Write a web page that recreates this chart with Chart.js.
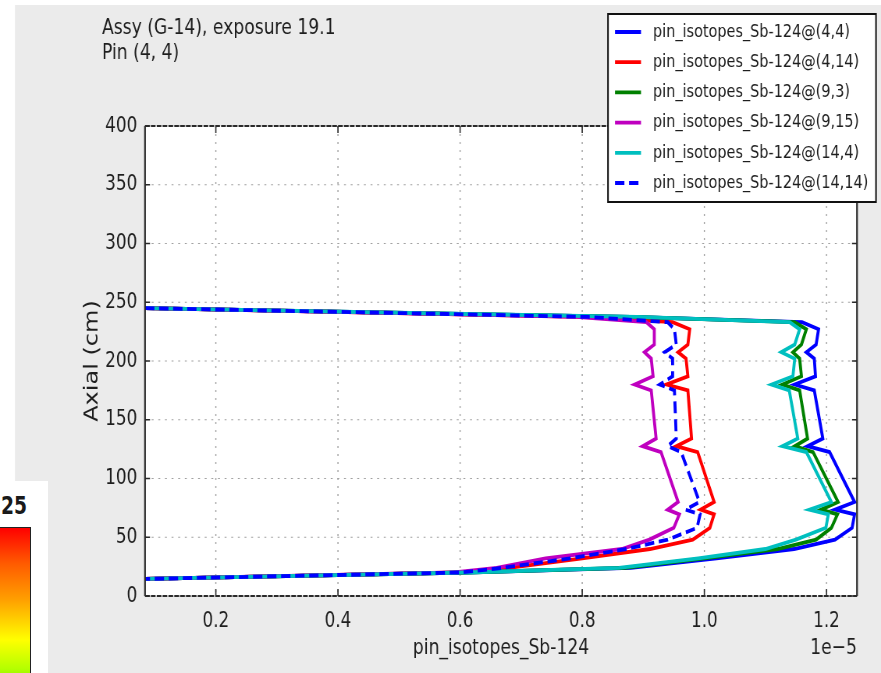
<!DOCTYPE html>
<html>
<head>
<meta charset="utf-8">
<script src="https://cdn.jsdelivr.net/npm/chart.js@4.4.1/dist/chart.umd.min.js"></script>
<style>
  html, body { margin: 0; padding: 0; background: #fff; overflow: hidden; width: 881px; height: 673px; }
  #stage { position: absolute; left: 0; top: 0; width: 1129px; height: 673px;
           transform: scaleX(0.78034); transform-origin: 0 0; }
  #side { position: absolute; left: 0; top: 481px; width: 48px; height: 192px; background: #fff; }
  #cbar { position: absolute; left: 0; top: 527px; width: 30px; height: 160px;
          border-top: 1.5px solid #222; border-right: 1.5px solid #222;
          background: linear-gradient(to bottom, #ff0000 0%, #ff5a00 22%, #ffa000 45%, #ffff00 70%, #b4ff00 88%, #6cf000 100%); }
  #cmax { position: absolute; left: 1px; top: 494px; font: bold 24px "DejaVu Sans", sans-serif; line-height: 24px;
          color: #1a1a1a; transform: scaleX(0.78); transform-origin: 0 0; white-space: nowrap; }
</style>
</head>
<body>
<div id="stage"><canvas id="c" width="1129" height="673"></canvas></div>
<div id="side"></div>
<div id="cbar"></div>
<div id="cmax">25</div>
<script>
// Axial node heights (cm), shared by every pin profile
const axialCm = [245, 240, 237.5, 233, 227, 214, 207.5, 202, 187, 180, 175, 134, 127.5, 122.5,
                 80, 73.5, 69.5, 58, 48, 40, 32, 24, 20, 14.5];

// Sb-124 pin inventory at each axial node, in units of 1e-5
const sb124Pin4_4   = [0.084, 0.60, 0.88, 1.160, 1.187, 1.183, 1.167, 1.180, 1.182, 1.148, 1.180, 1.194, 1.169, 1.205,
                       1.246, 1.214, 1.246, 1.242, 1.214, 1.147, 1.02, 0.88, 0.61, 0.084];
const sb124Pin4_14  = [0.084, 0.58, 0.80, 0.948, 0.976, 0.973, 0.957, 0.970, 0.973, 0.938, 0.973, 0.979, 0.954, 0.989,
                       1.016, 0.994, 1.016, 1.009, 0.981, 0.911, 0.80, 0.68, 0.60, 0.084];
const sb124Pin9_3   = [0.084, 0.60, 0.88, 1.148, 1.167, 1.159, 1.145, 1.156, 1.159, 1.128, 1.156, 1.169, 1.148, 1.178,
                       1.219, 1.191, 1.218, 1.208, 1.183, 1.120, 1.00, 0.87, 0.61, 0.084];
const sb124Pin9_15  = [0.084, 0.58, 0.79, 0.905, 0.918, 0.918, 0.902, 0.913, 0.916, 0.886, 0.913, 0.921, 0.899, 0.929,
                       0.957, 0.940, 0.959, 0.950, 0.910, 0.865, 0.74, 0.66, 0.59, 0.084];
const sb124Pin14_4  = [0.084, 0.61, 0.89, 1.140, 1.156, 1.148, 1.126, 1.148, 1.145, 1.110, 1.139, 1.153, 1.128, 1.167,
                       1.208, 1.172, 1.203, 1.199, 1.150, 1.100, 0.99, 0.86, 0.61, 0.084];
const sb124Pin14_14 = [0.084, 0.58, 0.81, 0.940, 0.951, 0.954, 0.935, 0.948, 0.948, 0.927, 0.951, 0.954, 0.940, 0.962,
                       0.992, 0.969, 0.993, 0.988, 0.940, 0.872, 0.78, 0.67, 0.60, 0.084];

const seriesLabels = [
  'pin_isotopes_Sb-124@(4,4)', 'pin_isotopes_Sb-124@(4,14)', 'pin_isotopes_Sb-124@(9,3)',
  'pin_isotopes_Sb-124@(9,15)', 'pin_isotopes_Sb-124@(14,4)', 'pin_isotopes_Sb-124@(14,14)'
];
const seriesValues = [sb124Pin4_4, sb124Pin4_14, sb124Pin9_3, sb124Pin9_15, sb124Pin14_4, sb124Pin14_14];

// Tick values and their labels
const xTickValues = [0.2, 0.4, 0.6, 0.8, 1.0, 1.2];
const xTickLabels = ['0.2', '0.4', '0.6', '0.8', '1.0', '1.2'];
const yTickValues = [0, 50, 100, 150, 200, 250, 300, 350, 400];
const yTickLabels = ['0', '50', '100', '150', '200', '250', '300', '350', '400'];

// Text
const titleLines = ['Assy (G-14), exposure 19.1', 'Pin (4, 4)'];
const xAxisTitle = 'pin_isotopes_Sb-124';
const xAxisExponent = '1e\u22125';
const yAxisTitle = 'Axial (cm)';

// Styling
const lineColors = ['#0000ff', '#ff0000', '#008000', '#bf00bf', '#00bfbf', '#0000ff'];
const lineDashes = [[], [], [], [], [], [12, 6]];
const FONT = '"DejaVu Sans", sans-serif';
const SX = 881 / 1129;            // horizontal squeeze of the drawing stage
const cx = v => v / SX;           // page x -> canvas x
const FIG_BG = '#ebebeb';
const LINE_W = 3.8;

const datasets = seriesValues.map((vals, i) => ({
  label: seriesLabels[i],
  data: vals.map((v, k) => ({ x: v, y: axialCm[k] })),
  showLine: true,
  borderColor: lineColors[i],
  backgroundColor: lineColors[i],
  borderWidth: LINE_W,
  borderDash: lineDashes[i],
  pointRadius: 0,
  tension: 0,
  fill: false,
  order: seriesValues.length - i   // later series paint on top
}));

const decor = {
  id: 'decor',
  beforeDraw(chart) {
    const { ctx, chartArea: a, width, height } = chart;
    ctx.save();
    ctx.fillStyle = '#fff';
    ctx.fillRect(0, 0, width, height);
    ctx.fillStyle = FIG_BG;
    ctx.fillRect(cx(15), 5, width, height);
    ctx.fillStyle = '#fff';
    ctx.fillRect(a.left, a.top, a.right - a.left, a.bottom - a.top);
    ctx.restore();
  },
  beforeDatasetsDraw(chart) {
    const { ctx, chartArea: a, scales } = chart;
    ctx.save();
    ctx.strokeStyle = '#a0a0a0';
    // vertical dotted grid
    ctx.lineWidth = 1.4;
    ctx.setLineDash([2, 6]);
    xTickValues.forEach(v => {
      const p = scales.x.getPixelForValue(v);
      ctx.beginPath(); ctx.moveTo(p, a.top); ctx.lineTo(p, a.bottom); ctx.stroke();
    });
    // horizontal dotted grid
    ctx.lineWidth = 1.1;
    ctx.setLineDash([2.5, 6]);
    yTickValues.forEach(v => {
      const p = scales.y.getPixelForValue(v);
      ctx.beginPath(); ctx.moveTo(a.left, p); ctx.lineTo(a.right, p); ctx.stroke();
    });
    ctx.restore();
  },
  afterDatasetsDraw(chart) {
    const { ctx, chartArea: a, scales } = chart;
    ctx.save();
    ctx.strokeStyle = '#2a2a2a';
    // left / right spines
    ctx.lineWidth = 2.2;
    ctx.setLineDash([]);
    ctx.beginPath();
    ctx.moveTo(a.left, a.top); ctx.lineTo(a.left, a.bottom);
    ctx.moveTo(a.right, a.top); ctx.lineTo(a.right, a.bottom);
    ctx.stroke();
    // top / bottom spines
    ctx.lineWidth = 1.8;
    ctx.setLineDash([6, 1.5]);
    ctx.beginPath();
    ctx.moveTo(a.left, a.top); ctx.lineTo(a.right, a.top);
    ctx.moveTo(a.left, a.bottom); ctx.lineTo(a.right, a.bottom);
    ctx.stroke();
    // inward tick marks
    ctx.setLineDash([]);
    ctx.lineWidth = 1.6;
    ctx.beginPath();
    xTickValues.forEach(v => {
      const p = scales.x.getPixelForValue(v);
      ctx.moveTo(p, a.bottom); ctx.lineTo(p, a.bottom - 7);
      ctx.moveTo(p, a.top); ctx.lineTo(p, a.top + 7);
    });
    yTickValues.forEach(v => {
      const p = scales.y.getPixelForValue(v);
      ctx.moveTo(a.left, p); ctx.lineTo(a.left + cx(5), p);
      ctx.moveTo(a.right, p); ctx.lineTo(a.right - cx(5), p);
    });
    ctx.stroke();
    ctx.restore();
  },
  afterDraw(chart) {
    const { ctx, chartArea: a } = chart;
    ctx.save();
    ctx.fillStyle = '#1e1e1e';
    // title block
    ctx.font = '22px ' + FONT;
    ctx.textAlign = 'left';
    ctx.textBaseline = 'alphabetic';
    ctx.fillText(titleLines[0], cx(102), 33.5);
    ctx.fillText(titleLines[1], cx(102), 58.5);
    // axis titles
    ctx.textAlign = 'center';
    ctx.fillText(xAxisTitle, (a.left + a.right) / 2, 654);
    ctx.textAlign = 'right';
    ctx.fillText(xAxisExponent, a.right, 654);
    ctx.save();
    ctx.font = '24px ' + FONT;
    ctx.translate(cx(92.5), (a.top + a.bottom) / 2);
    ctx.rotate(-Math.PI / 2);
    ctx.textAlign = 'center';
    ctx.textBaseline = 'middle';
    ctx.fillText(yAxisTitle, 0, 0);
    ctx.restore();

    // legend box
    const bx0 = cx(608), bx1 = cx(876), by0 = 14, by1 = 202;
    ctx.fillStyle = '#fff';
    ctx.fillRect(bx0, by0, bx1 - bx0, by1 - by0);
    ctx.strokeStyle = '#111';
    ctx.lineWidth = 2;
    ctx.strokeRect(bx0, by0, bx1 - bx0, by1 - by0);
    ctx.font = '18.5px ' + FONT;
    ctx.textAlign = 'left';
    ctx.textBaseline = 'middle';
    chart.data.datasets.forEach((ds, i) => {
      const y = 32 + i * 30.2;
      ctx.strokeStyle = ds.borderColor;
      ctx.lineWidth = LINE_W;
      ctx.setLineDash(ds.borderDash || []);
      ctx.beginPath();
      ctx.moveTo(cx(615), y); ctx.lineTo(cx(641), y);
      ctx.stroke();
      ctx.setLineDash([]);
      ctx.fillStyle = '#1e1e1e';
      ctx.fillText(ds.label, cx(653), y);
    });
    ctx.restore();
  }
};

new Chart(document.getElementById('c'), {
  type: 'scatter',
  data: { datasets },
  options: {
    responsive: false,
    devicePixelRatio: 1,
    animation: false,
    events: [],
    layout: { padding: { left: 0, top: 126, right: 1129 - cx(857), bottom: 0 } },
    plugins: { legend: { display: false }, tooltip: { enabled: false }, title: { display: false } },
    scales: {
      x: {
        type: 'linear', min: 0.084, max: 1.25,
        grid: { display: false }, border: { display: false },
        afterBuildTicks: s => { s.ticks = xTickValues.map(v => ({ value: v })); },
        afterFit: s => { s.height = 77; s.paddingLeft = 0; s.paddingRight = 0; },
        ticks: {
          autoSkip: false, maxRotation: 0, padding: 5, color: '#1e1e1e',
          font: { family: FONT, size: 21.5 },
          callback: (v, i) => xTickLabels[i]
        }
      },
      y: {
        type: 'linear', min: 0, max: 400,
        grid: { display: false }, border: { display: false },
        afterBuildTicks: s => { s.ticks = yTickValues.map(v => ({ value: v })); },
        afterFit: s => { s.width = cx(145); s.paddingTop = 0; s.paddingBottom = 0; },
        ticks: {
          autoSkip: false, padding: 2, color: '#1e1e1e',
          font: { family: FONT, size: 21.5 },
          callback: (v, i) => yTickLabels[i]
        }
      }
    }
  },
  plugins: [decor]
});
</script>
</body>
</html>
